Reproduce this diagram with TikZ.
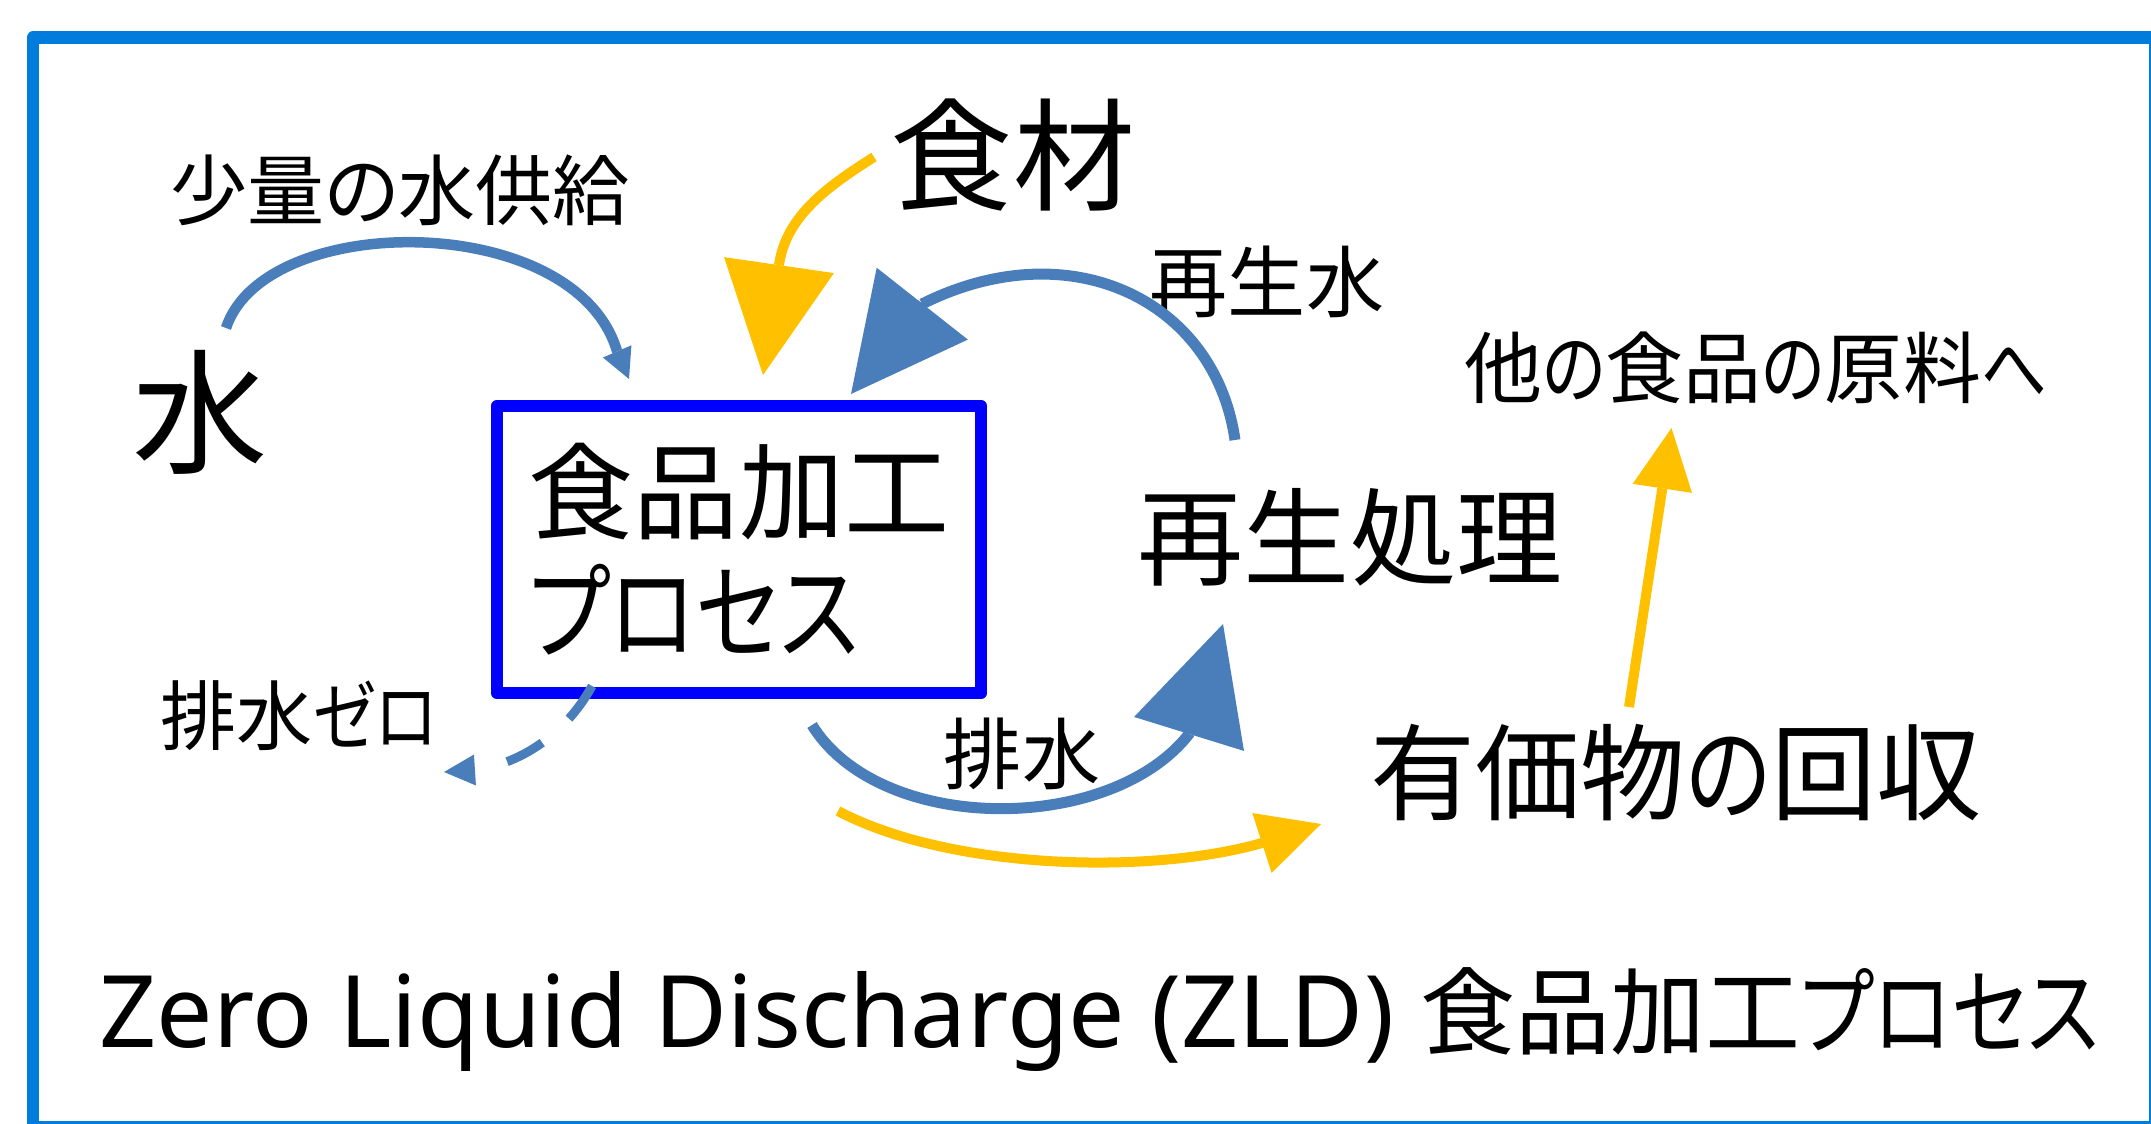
\documentclass[tikz,border=0pt]{standalone}
\usepackage{graphicx}
\usepackage{fontspec}
\setmainfont{Noto Sans}
\newfontfamily\jp[RawFeature={+palt}]{Noto Sans CJK JP}
\usetikzlibrary{arrows.meta}
\definecolor{framecol}{RGB}{0,125,220}
\definecolor{arrowblue}{RGB}{74,126,187}
\definecolor{gold}{RGB}{255,192,0}
\definecolor{boxblue}{RGB}{0,0,255}
\newcommand\px[2]{\fontsize{#1}{#2}\selectfont}
\newcommand\kn[1]{\scalebox{0.84}[1]{#1}}
\begin{document}
\begin{tikzpicture}[x=0.01cm, y=-0.01cm,
  lbl/.style={inner sep=0pt, font=\jp},
  arrB/.style={draw=arrowblue, line width=0.11cm, line join=round},
  arrY/.style={draw=gold, line width=0.10cm, line join=round},
  procbox/.style={draw=boxblue, line width=0.12cm, line join=round, minimum width=4.84cm, minimum height=2.87cm, inner sep=0pt, align=left}]
\useasboundingbox (0,0) rectangle (2151,1124);
\begin{scope}
  \clip (0,0) rectangle (2151,1124);
  \draw[framecol, line width=0.12cm, line join=round] (33,37.5) rectangle (2155,1127);
\end{scope}

% nodes
\node[procbox, font=\jp\px{1.05cm}{1.2cm}] (proc) at (739,549.5) {食品加工\\\kn{プロセス}};
\node[lbl, font=\jp\px{1.35cm}{1.4cm}] (water) at (200,412) {水};
\node[lbl, font=\jp\px{0.77cm}{0.9cm}] (supply) at (400,190.5) {少量の水供給};
\node[lbl, font=\jp\px{1.22cm}{1.3cm}] (food) at (1013,155) {食材};
\node[lbl, font=\jp\px{0.78cm}{0.9cm}] (recw) at (1267,282) {再生水};
\node[lbl, font=\jp\px{0.78cm}{0.9cm}] (other) at (1756,368) {他\kn{の}食品\kn{の}原料\kn{へ}};
\node[lbl, font=\jp\px{1.06cm}{1.2cm}] (regen) at (1350,537) {再生処理};
\node[lbl, font=\jp\px{1.05cm}{1.2cm}] (recov) at (1676,773) {有価物\kn{の}回収};
\node[lbl, font=\jp\px{0.76cm}{0.9cm}] (zero) at (299,716) {排水\kn{ゼロ}};
\node[lbl, font=\jp\px{0.78cm}{0.9cm}] (drain) at (1022,754) {排水};
\node[inner sep=0pt, anchor=base west, font=\px{1.0cm}{1.2cm}] (title) at (99,1047) {Zero Liquid Discharge (ZLD) {\jp\px{0.95cm}{1.1cm}食品加工\kn{プロセス}}};

% connector end points
\coordinate (aS) at (226,328); \coordinate (aB) at (617,351); \coordinate (aT) at (629,379);
\coordinate (bS) at (874,157); \coordinate (bB) at (779,265); \coordinate (bT) at (763,375);
\coordinate (cS) at (1235,440); \coordinate (cB) at (922,304); \coordinate (cT) at (851,394);
\coordinate (dS) at (812,725); \coordinate (dB) at (1189,734); \coordinate (dT) at (1223,624);
\coordinate (eS) at (838,811); \coordinate (eB) at (1262,843); \coordinate (eT) at (1321,824);
\coordinate (fS) at (1629,707); \coordinate (fT) at (1671.5,428);
\coordinate (gS) at (592,686); \coordinate (gB) at (475,770); \coordinate (gT) at (444,772);

% water supply
\draw[arrB, line width=0.105cm, -{Triangle[length=0.30cm,width=0.31cm,line width=0pt]}]
  (aS) .. controls (265,210) and (575,210) .. (aB) -- (aT);
% food material
\draw[arrY, -{Triangle[length=1.11cm,width=1.11cm,line width=0pt]}]
  (bS) .. controls (830,185) and (786,215) .. (bB) -- (bT);
% reclaimed water
\draw[arrB, -{Triangle[length=1.15cm,width=1.16cm,line width=0pt]}]
  (cS) .. controls (1215,300) and (1070,230) .. (cB) -- (cT);
% drainage
\draw[arrB, -{Triangle[length=1.15cm,width=1.15cm,line width=0pt]}]
  (dS) .. controls (880,835) and (1110,835) .. (dB) -- (dT);
% valuables
\draw[arrY, -{Triangle[length=0.62cm,width=0.63cm,line width=0pt]}]
  (eS) .. controls (950,870) and (1150,875) .. (eB) -- (eT);
% to other food
\draw[arrY, -{Triangle[length=0.61cm,width=0.60cm,line width=0pt]}] (fS) -- (fT);
% zero discharge
\draw[arrB, line width=0.09cm, dash pattern=on 0.40cm off 0.36cm, -{Triangle[length=0.31cm,width=0.31cm,line width=0pt]}]
  (gS) .. controls (568,730) and (525,763) .. (gB) -- (gT);
\end{tikzpicture}
\end{document}
